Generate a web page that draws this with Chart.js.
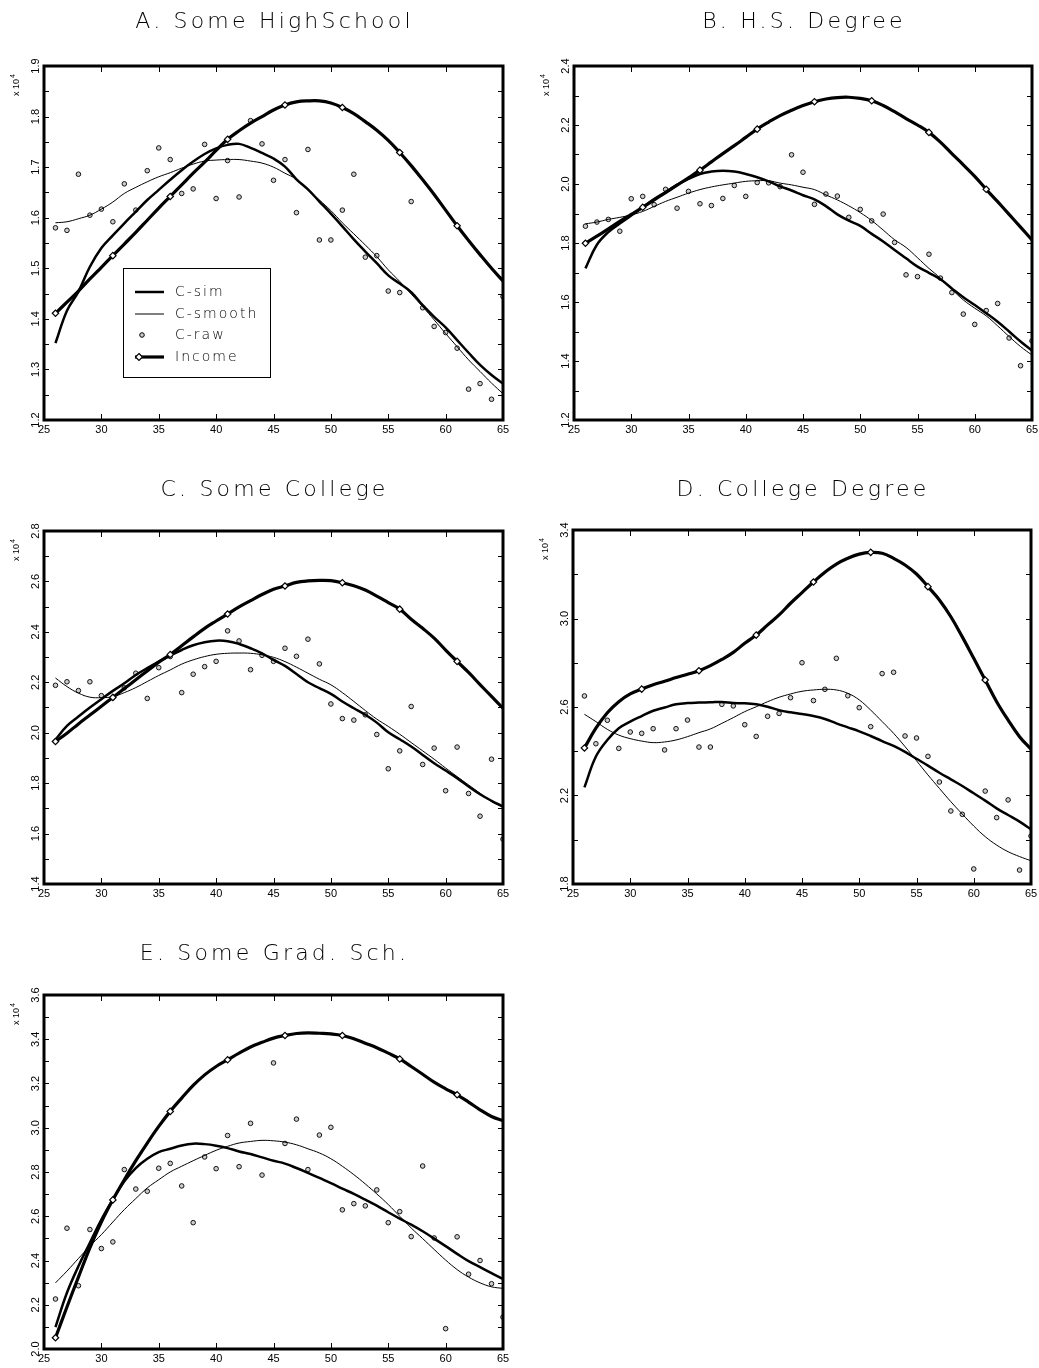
<!DOCTYPE html>
<html>
<head>
<meta charset="utf-8">
<script src="https://cdn.jsdelivr.net/npm/chart.js@4.4.0/dist/chart.umd.min.js"></script>
<style>
  html, body { margin: 0; padding: 0; background: #fff; }
  body { width: 1039px; height: 1368px; position: relative; overflow: hidden; }
  .panel { position: absolute; }
  .panel canvas { display: block; }
</style>
</head>
<body>
<div class="panel" style="left:0;top:0"><canvas id="cA" width="519" height="450"></canvas></div>
<div class="panel" style="left:519px;top:0"><canvas id="cB" width="520" height="450"></canvas></div>
<div class="panel" style="left:0;top:465px"><canvas id="cC" width="519" height="450"></canvas></div>
<div class="panel" style="left:519px;top:465px"><canvas id="cD" width="520" height="450"></canvas></div>
<div class="panel" style="left:0;top:930px"><canvas id="cE" width="519" height="438"></canvas></div>

<script>
// ages 26..65
const AGES = [26,27,28,29,30,31,32,33,34,35,36,37,38,39,40,41,42,43,44,45,
              46,47,48,49,50,51,52,53,54,55,56,57,58,59,60,61,62,63,64,65];
const X_TICKS = [25,30,35,40,45,50,55,60,65];

// A. Some HighSchool  (x 10^4)
const Y_LABELS_A = [1.2,1.3,1.4,1.5,1.6,1.7,1.8,1.9];
const INCOME_A = [1.411,1.433,1.455,1.479,1.502,1.525,1.548,1.571,1.595,1.619,
                  1.642,1.665,1.688,1.710,1.733,1.755,1.772,1.787,1.800,1.813,
                  1.823,1.829,1.831,1.831,1.827,1.818,1.806,1.790,1.773,1.753,
                  1.729,1.703,1.675,1.646,1.615,1.584,1.555,1.527,1.500,1.475];
const SIM_A    = [1.352,1.416,1.454,1.503,1.540,1.565,1.589,1.612,1.635,1.655,
                  1.675,1.694,1.711,1.726,1.737,1.744,1.746,1.738,1.728,1.717,
                  1.701,1.676,1.656,1.632,1.608,1.583,1.557,1.533,1.510,1.486,
                  1.470,1.453,1.427,1.404,1.383,1.358,1.333,1.309,1.289,1.272];
const SMOOTH_A = [1.590,1.592,1.598,1.605,1.617,1.631,1.648,1.660,1.671,1.681,
                  1.689,1.698,1.706,1.712,1.714,1.715,1.715,1.712,1.708,1.700,
                  1.688,1.676,1.655,1.635,1.614,1.590,1.568,1.546,1.523,1.497,
                  1.474,1.449,1.424,1.398,1.371,1.345,1.319,1.296,1.273,1.252];
const RAW_A    = [1.580,1.575,1.686,1.605,1.617,1.592,1.667,1.615,1.693,1.738,
                  1.715,1.648,1.657,1.745,1.638,1.713,1.641,1.792,1.746,1.674,
                  1.715,1.610,1.735,1.556,1.556,1.615,1.686,1.522,1.525,1.455,
                  1.452,1.632,1.422,1.385,1.373,1.342,1.261,1.272,1.241,1.444];

// B. H.S. Degree
const Y_LABELS_B = [1.2,1.4,1.6,1.8,2.0,2.2,2.4];
const INCOME_B = [1.799,1.823,1.848,1.873,1.897,1.921,1.946,1.971,1.996,2.021,
                  2.047,2.075,2.103,2.130,2.158,2.186,2.210,2.232,2.250,2.266,
                  2.279,2.288,2.293,2.294,2.290,2.282,2.266,2.245,2.222,2.200,
                  2.175,2.142,2.103,2.065,2.026,1.982,1.940,1.897,1.854,1.810];
const SIM_B    = [1.714,1.794,1.837,1.866,1.893,1.921,1.949,1.973,1.997,2.017,
                  2.034,2.042,2.045,2.042,2.034,2.023,2.009,1.992,1.978,1.962,
                  1.948,1.925,1.897,1.876,1.858,1.831,1.805,1.776,1.748,1.720,
                  1.699,1.677,1.646,1.616,1.590,1.562,1.533,1.500,1.466,1.435];
const SMOOTH_B = [1.865,1.871,1.880,1.887,1.895,1.907,1.924,1.941,1.955,1.969,
                  1.981,1.990,1.997,2.003,2.009,2.011,2.011,2.003,1.997,1.989,
                  1.981,1.963,1.946,1.926,1.903,1.876,1.844,1.811,1.785,1.750,
                  1.714,1.681,1.643,1.607,1.579,1.553,1.519,1.483,1.449,1.420];
const RAW_B    = [1.857,1.871,1.880,1.840,1.950,1.958,1.930,1.982,1.918,1.975,
                  1.933,1.927,1.951,1.995,1.958,2.005,2.004,1.991,2.099,2.040,
                  1.931,1.966,1.959,1.887,1.914,1.875,1.898,1.802,1.692,1.686,
                  1.762,1.681,1.632,1.559,1.524,1.571,1.595,1.478,1.384,1.468];

// C. Some College
const Y_LABELS_C = [1.4,1.6,1.8,2.0,2.2,2.4,2.6,2.8];
const INCOME_C = [1.965,1.998,2.035,2.070,2.105,2.140,2.175,2.210,2.245,2.280,
                  2.310,2.345,2.380,2.414,2.443,2.471,2.499,2.524,2.548,2.569,
                  2.582,2.596,2.602,2.604,2.603,2.595,2.583,2.566,2.542,2.516,
                  2.490,2.450,2.414,2.375,2.328,2.283,2.239,2.191,2.144,2.097];
const SIM_C    = [1.972,2.027,2.064,2.100,2.133,2.166,2.196,2.229,2.256,2.282,
                  2.306,2.328,2.347,2.359,2.365,2.363,2.352,2.335,2.315,2.289,
                  2.265,2.233,2.200,2.177,2.154,2.124,2.097,2.071,2.040,2.002,
                  1.974,1.945,1.912,1.879,1.850,1.820,1.787,1.756,1.730,1.707];
const SMOOTH_C = [2.217,2.183,2.157,2.141,2.139,2.143,2.159,2.179,2.203,2.227,
                  2.249,2.272,2.289,2.302,2.311,2.315,2.316,2.315,2.309,2.299,
                  2.282,2.260,2.236,2.212,2.190,2.159,2.124,2.088,2.054,2.025,
                  1.994,1.961,1.928,1.895,1.860,1.826,1.793,1.760,1.727,1.704];
const RAW_C    = [2.188,2.202,2.167,2.202,2.147,2.139,2.178,2.236,2.136,2.258,
                  2.302,2.159,2.232,2.262,2.283,2.404,2.364,2.250,2.307,2.283,
                  2.335,2.303,2.371,2.273,2.114,2.056,2.050,2.071,1.993,1.857,
                  1.928,2.104,1.874,1.939,1.770,1.943,1.759,1.669,1.895,1.578];

// D. College Degree
const Y_LABELS_D = [1.8,2.2,2.6,3.0,3.4];
const INCOME_D = [2.415,2.504,2.574,2.624,2.659,2.681,2.701,2.716,2.733,2.748,
                  2.764,2.787,2.815,2.847,2.888,2.925,2.971,3.016,3.069,3.117,
                  3.165,3.209,3.246,3.272,3.291,3.299,3.295,3.272,3.242,3.201,
                  3.144,3.084,3.008,2.917,2.820,2.722,2.624,2.541,2.466,2.409];
const SIM_D    = [2.237,2.376,2.451,2.504,2.534,2.559,2.583,2.598,2.612,2.618,
                  2.620,2.621,2.623,2.618,2.617,2.612,2.601,2.586,2.576,2.568,
                  2.559,2.546,2.526,2.508,2.490,2.469,2.446,2.424,2.397,2.366,
                  2.335,2.303,2.273,2.243,2.210,2.177,2.142,2.112,2.082,2.047];
const SMOOTH_D = [2.567,2.534,2.499,2.473,2.457,2.446,2.439,2.442,2.451,2.466,
                  2.484,2.501,2.526,2.552,2.579,2.601,2.624,2.644,2.659,2.671,
                  2.677,2.680,2.677,2.662,2.632,2.586,2.534,2.481,2.421,2.357,
                  2.293,2.232,2.172,2.116,2.062,2.014,1.976,1.946,1.924,1.905];
const RAW_D    = [2.650,2.434,2.540,2.413,2.487,2.481,2.502,2.406,2.502,2.541,
                  2.419,2.419,2.612,2.605,2.520,2.467,2.558,2.571,2.642,2.800,
                  2.629,2.680,2.820,2.651,2.597,2.511,2.751,2.757,2.469,2.460,
                  2.377,2.261,2.130,2.115,1.868,2.220,2.100,2.180,1.863,2.017];

// E. Some Grad. Sch.
const Y_LABELS_E = [2.0,2.2,2.4,2.6,2.8,3.0,3.2,3.4,3.6];
const INCOME_E = [2.051,2.190,2.325,2.457,2.574,2.674,2.765,2.851,2.931,3.006,
                  3.074,3.134,3.191,3.239,3.277,3.307,3.337,3.365,3.386,3.405,
                  3.417,3.426,3.429,3.427,3.424,3.417,3.402,3.382,3.362,3.337,
                  3.311,3.277,3.242,3.206,3.176,3.149,3.116,3.081,3.051,3.032];
const SIM_E    = [2.099,2.254,2.374,2.480,2.585,2.675,2.758,2.818,2.860,2.890,
                  2.905,2.920,2.928,2.926,2.919,2.908,2.893,2.881,2.866,2.851,
                  2.838,2.818,2.796,2.773,2.750,2.725,2.701,2.675,2.648,2.618,
                  2.589,2.562,2.532,2.499,2.465,2.430,2.397,2.370,2.343,2.317];
const SMOOTH_E = [2.299,2.352,2.409,2.465,2.517,2.574,2.630,2.680,2.728,2.765,
                  2.800,2.826,2.851,2.875,2.898,2.916,2.931,2.938,2.943,2.941,
                  2.935,2.923,2.905,2.886,2.860,2.826,2.788,2.746,2.701,2.653,
                  2.600,2.547,2.499,2.450,2.402,2.359,2.325,2.299,2.281,2.274];
const RAW_E    = [2.226,2.546,2.286,2.540,2.454,2.484,2.811,2.723,2.713,2.817,
                  2.839,2.737,2.571,2.868,2.815,2.965,2.824,3.020,2.786,3.293,
                  2.929,3.039,2.811,2.967,3.002,2.629,2.657,2.647,2.719,2.571,
                  2.621,2.508,2.827,2.502,2.092,2.507,2.338,2.400,2.295,2.144];

const TITLE_FONT = '200 22px "DejaVu Sans"';
const TICK_FONT  = '11px "Liberation Sans", Arial, sans-serif';

// frame, inward ticks, tick labels, title and (panel A only) the legend
const panelDecor = {
  id: 'panelDecor',
  afterDraw(chart, args, o) {
    const { ctx, chartArea: a } = chart;
    const xs = chart.scales.x, ys = chart.scales.y;
    ctx.save();
    ctx.strokeStyle = '#000';
    ctx.fillStyle = '#000';

    // minor/major ticks pointing inward
    ctx.lineWidth = 1;
    ctx.beginPath();
    const n = Math.round((o.yMax - o.yMin) / o.yMinor);
    for (let i = 0; i <= n; i++) {
      const py = Math.round(ys.getPixelForValue(o.yMin + i * o.yMinor)) + 0.5;
      ctx.moveTo(a.left, py);  ctx.lineTo(a.left + 5, py);
      ctx.moveTo(a.right - 5, py); ctx.lineTo(a.right, py);
    }
    X_TICKS.forEach(v => {
      const px = Math.round(xs.getPixelForValue(v)) + 0.5;
      ctx.moveTo(px, a.top); ctx.lineTo(px, a.top + 6);
      ctx.moveTo(px, a.bottom - 6); ctx.lineTo(px, a.bottom);
    });
    ctx.stroke();

    // heavy box
    ctx.lineWidth = 3;
    ctx.strokeRect(a.left, a.top, a.right - a.left, a.bottom - a.top);

    // x labels
    ctx.font = TICK_FONT;
    ctx.textAlign = 'center';
    ctx.textBaseline = 'middle';
    X_TICKS.forEach(v => ctx.fillText(String(v), xs.getPixelForValue(v), a.bottom + 10));

    // y labels, rotated
    o.yLabels.forEach(v => {
      ctx.save();
      ctx.translate(a.left - 8, ys.getPixelForValue(v));
      ctx.rotate(-Math.PI / 2);
      ctx.fillText(v.toFixed(1), 0, 0);
      ctx.restore();
    });

    // "x 10^4"
    ctx.save();
    ctx.translate(a.left - 27, a.top + 16);
    ctx.rotate(-Math.PI / 2);
    ctx.font = '9px "Liberation Sans", Arial, sans-serif';
    ctx.textAlign = 'right';
    ctx.fillText('x 10', 3, 0);
    ctx.font = '7px "Liberation Sans", Arial, sans-serif';
    ctx.textAlign = 'left';
    ctx.fillText('4', 4, -4);
    ctx.restore();

    // title
    ctx.font = TITLE_FONT;
    ctx.letterSpacing = '3.2px';
    ctx.textAlign = 'center';
    ctx.fillText(o.title, (a.left + a.right) / 2 + 1, o.titleY);
    ctx.letterSpacing = '0px';

    if (o.legend) _drawLegend(ctx, a.left + 79, a.top + 202);
    ctx.restore();
  }
};

function _drawLegend(ctx, bx, by) {
  ctx.lineWidth = 1;
  ctx.strokeRect(bx + 0.5, by + 0.5, 147, 109);
  const rows = [24, 46, 67, 89];
  const x0 = bx + 12, x1 = bx + 41;
  ctx.lineWidth = 2.5;
  ctx.beginPath(); ctx.moveTo(x0, by + rows[0]); ctx.lineTo(x1, by + rows[0]); ctx.stroke();
  ctx.lineWidth = 1;
  ctx.beginPath(); ctx.moveTo(x0, by + rows[1]); ctx.lineTo(x1, by + rows[1]); ctx.stroke();
  ctx.fillStyle = '#ccc';
  ctx.beginPath(); ctx.arc(bx + 19, by + rows[2], 2.3, 0, Math.PI * 2); ctx.fill(); ctx.stroke();
  ctx.fillStyle = '#000';
  ctx.lineWidth = 3.2;
  ctx.beginPath(); ctx.moveTo(x0, by + rows[3]); ctx.lineTo(x1, by + rows[3]); ctx.stroke();
  const dx = bx + 16, dy = by + rows[3];
  ctx.fillStyle = '#fff'; ctx.lineWidth = 1.2;
  ctx.beginPath();
  ctx.moveTo(dx, dy - 3.5); ctx.lineTo(dx + 3.5, dy); ctx.lineTo(dx, dy + 3.5); ctx.lineTo(dx - 3.5, dy);
  ctx.closePath(); ctx.fill(); ctx.stroke();
  ctx.fillStyle = '#000';
  ctx.font = '200 14px "DejaVu Sans"';
  ctx.letterSpacing = '2px';
  ctx.textAlign = 'left';
  ctx.textBaseline = 'middle';
  ['C-sim', 'C-smooth', 'C-raw', 'Income'].forEach((t, i) => ctx.fillText(t, bx + 52, by + rows[i]));
  ctx.letterSpacing = '0px';
}

function _pts(vals) {
  return AGES.map((a, i) => ({ x: a, y: vals[i] }));
}

function makePanel(canvasId, cfg) {
  const datasets = [
    {
      label: 'Income', data: _pts(cfg.income),
      borderColor: '#000', borderWidth: 3.2, tension: 0.4, fill: false,
      pointStyle: 'rectRot',
      pointRadius: c => (c.dataIndex % 5 === 0 && c.dataIndex <= 35) ? 3.2 : 0,
      pointBackgroundColor: '#fff', pointBorderColor: '#000', pointBorderWidth: 1.2,
    },
    {
      label: 'C-sim', data: _pts(cfg.sim),
      borderColor: '#000', borderWidth: 2.5, tension: 0.4, fill: false, pointRadius: 0,
    },
    {
      label: 'C-smooth', data: _pts(cfg.smooth),
      borderColor: '#000', borderWidth: 1, tension: 0.4, fill: false, pointRadius: 0,
    },
    {
      label: 'C-raw', data: _pts(cfg.raw), showLine: false,
      pointRadius: 2.3, pointBorderWidth: 1,
      pointBorderColor: '#111', pointBackgroundColor: '#ccc',
    },
  ];

  return new Chart(document.getElementById(canvasId), {
    type: 'line',
    data: { datasets },
    options: {
      responsive: false,
      animation: false,
      layout: { padding: cfg.pad },
      plugins: {
        legend: { display: false },
        tooltip: { enabled: false },
        panelDecor: {
          title: cfg.title, titleY: cfg.titleY,
          yMin: cfg.yMin, yMax: cfg.yMax, yMinor: cfg.yMinor,
          yLabels: cfg.yLabels, legend: !!cfg.legend,
        },
      },
      scales: {
        x: { type: 'linear', min: 25, max: 65, display: false },
        y: { type: 'linear', min: cfg.yMin, max: cfg.yMax, display: false },
      },
    },
    plugins: [panelDecor],
  });
}

makePanel('cA', {
  title: 'A. Some HighSchool', titleY: 22,
  yMin: 1.2, yMax: 1.9, yMinor: 0.05, yLabels: Y_LABELS_A,
  income: INCOME_A, sim: SIM_A, smooth: SMOOTH_A, raw: RAW_A, legend: true,
  pad: { left: 44, top: 66, right: 16, bottom: 30 },
});
makePanel('cB', {
  title: 'B. H.S. Degree', titleY: 22,
  yMin: 1.2, yMax: 2.4, yMinor: 0.1, yLabels: Y_LABELS_B,
  income: INCOME_B, sim: SIM_B, smooth: SMOOTH_B, raw: RAW_B,
  pad: { left: 55, top: 66, right: 7, bottom: 30 },
});
makePanel('cC', {
  title: 'C. Some College', titleY: 25,
  yMin: 1.4, yMax: 2.8, yMinor: 0.1, yLabels: Y_LABELS_C,
  income: INCOME_C, sim: SIM_C, smooth: SMOOTH_C, raw: RAW_C,
  pad: { left: 44, top: 66, right: 16, bottom: 31 },
});
makePanel('cD', {
  title: 'D. College Degree', titleY: 25,
  yMin: 1.8, yMax: 3.4, yMinor: 0.2, yLabels: Y_LABELS_D,
  income: INCOME_D, sim: SIM_D, smooth: SMOOTH_D, raw: RAW_D,
  pad: { left: 54, top: 65, right: 8, bottom: 31 },
});
makePanel('cE', {
  title: 'E. Some Grad. Sch.', titleY: 24,
  yMin: 2.0, yMax: 3.6, yMinor: 0.1, yLabels: Y_LABELS_E,
  income: INCOME_E, sim: SIM_E, smooth: SMOOTH_E, raw: RAW_E,
  pad: { left: 44, top: 65, right: 16, bottom: 19 },
});
</script>
</body>
</html>
